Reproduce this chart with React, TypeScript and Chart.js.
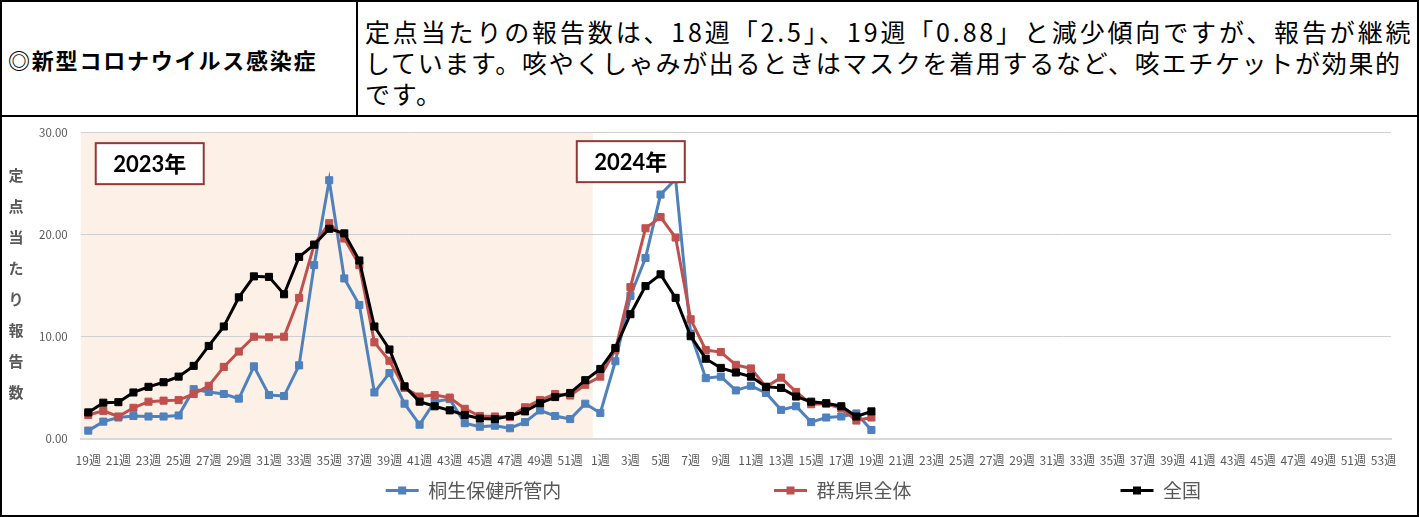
import React, { useEffect, useRef } from 'react';
import { Chart, registerables } from 'chart.js';

Chart.register(...registerables);

// ---- categories (x axis) ----
const weeks2023 = [
  '19週', '20週', '21週', '22週', '23週', '24週', '25週', '26週', '27週', '28週',
  '29週', '30週', '31週', '32週', '33週', '34週', '35週', '36週', '37週', '38週',
  '39週', '40週', '41週', '42週', '43週', '44週', '45週', '46週', '47週', '48週',
  '49週', '50週', '51週', '52週',
];
const weeks2024 = [
  '1週', '2週', '3週', '4週', '5週', '6週', '7週', '8週', '9週', '10週',
  '11週', '12週', '13週', '14週', '15週', '16週', '17週', '18週', '19週', '20週',
  '21週', '22週', '23週', '24週', '25週', '26週', '27週', '28週', '29週', '30週',
  '31週', '32週', '33週', '34週', '35週', '36週', '37週', '38週', '39週', '40週',
  '41週', '42週', '43週', '44週', '45週', '46週', '47週', '48週', '49週', '50週',
  '51週', '52週', '53週',
];
const categories = [...weeks2023, ...weeks2024];

// ---- series values ----
const kiryu2023 = [
  0.82, 1.7, 2.1, 2.25, 2.2, 2.2, 2.3, 4.87, 4.6, 4.4,
  3.95, 7.1, 4.3, 4.2, 7.2, 17.0, 25.3, 15.7, 13.1, 4.55,
  6.45, 3.45, 1.4, 3.65, 3.9, 1.55, 1.2, 1.3, 1.05, 1.65,
  2.8, 2.25, 1.95, 3.45,
];
const kiryu2024 = [
  2.55, 7.6, 14.0, 17.7, 23.9, 25.4, 10.3, 5.95, 6.1, 4.75,
  5.2, 4.5, 2.85, 3.2, 1.65, 2.1, 2.2, 2.5, 0.88,
];
const gunma2023 = [
  2.35, 2.75, 2.2, 3.05, 3.65, 3.75, 3.8, 4.4, 5.2, 7.05,
  8.55, 10.0, 9.95, 10.0, 13.8, 19.0, 21.1, 19.6, 17.0, 9.45,
  7.65, 5.0, 4.15, 4.3, 4.05, 2.95, 2.25, 2.2, 2.15, 3.1,
  3.8, 4.4, 4.25, 5.3,
];
const gunma2024 = [
  6.1, 8.7, 14.85, 20.6, 21.7, 19.7, 11.7, 8.7, 8.5, 7.25,
  6.9, 5.1, 6.0, 4.6, 3.4, 3.45, 3.0, 1.8, 2.1,
];
const national2023 = [
  2.6, 3.55, 3.6, 4.55, 5.1, 5.55, 6.1, 7.15, 9.1, 11.0,
  13.85, 15.9, 15.85, 14.15, 17.8, 19.0, 20.55, 20.1, 17.45, 11.0,
  8.75, 5.15, 3.65, 3.2, 2.8, 2.35, 2.0, 1.95, 2.25, 2.7,
  3.5, 4.1, 4.5, 5.75,
];
const national2024 = [
  6.85, 8.9, 12.2, 14.95, 16.1, 13.8, 10.05, 7.85, 6.95, 6.5,
  6.1, 5.1, 5.0, 4.15, 3.65, 3.5, 3.2, 2.2, 2.7,
];

const seriesNames = ['桐生保健所管内', '群馬県全体', '全国'];
const seriesColors = ['#4F81BD', '#C0504D', '#000000'];
const yearLabels = ['2023年', '2024年'];
const yTicks = [0, 10, 20, 30];
const yTitleChars = ['定', '点', '当', 'た', 'り', '報', '告', '数'];

const headerLeft = '◎新型コロナウイルス感染症';
const headerLines = [
  '定点当たりの報告数は、18週「2.5」、19週「0.88」と減少傾向ですが、報告が継続',
  'しています。咳やくしゃみが出るときはマスクを着用するなど、咳エチケットが効果的',
  'です。',
];
const headerSpacing = [2.85, 1.7, 1.7];

const fullSeries = (a: number[], b: number[]) =>
  [...a, ...b, ...new Array(weeks2024.length - b.length).fill(null)];

// legend spacing (Excel spreads the legend entries out)
const legendSpacers = [
  '\u3000'.repeat(11) + '\u2009',
  '\u3000'.repeat(11),
  '\u3000'.repeat(10),
];

const FONT = "'Noto Sans CJK JP', 'Noto Sans', sans-serif";

const bandInfo = (chart: any) => {
  const x = chart.scales.x;
  const half = (x.getPixelForValue(1) - x.getPixelForValue(0)) / 2;
  const left = x.getPixelForValue(0) - half;
  const right = x.getPixelForValue(weeks2023.length - 1) + half;
  return { left, right };
};

const shadePlugin = {
  id: 'shade2023',
  beforeDraw(chart: any) {
    const { ctx, chartArea } = chart;
    const { left, right } = bandInfo(chart);
    ctx.save();
    ctx.fillStyle = '#FDF0E6';
    ctx.fillRect(left, chartArea.top, right - left, chartArea.bottom - chartArea.top);
    ctx.restore();
  },
};

const yearBoxPlugin = {
  id: 'yearBoxes',
  afterDatasetsDraw(chart: any) {
    const { ctx, chartArea } = chart;
    const { right } = bandInfo(chart);
    const boxes = [
      { text: yearLabels[0], left: chartArea.left + 15, top: chartArea.top + 11 },
      { text: yearLabels[1], left: right - 16, top: chartArea.top + 9 },
    ];
    ctx.save();
    boxes.forEach((b) => {
      const w = 108;
      const h = 41;
      ctx.fillStyle = '#FFFFFF';
      ctx.fillRect(b.left, b.top, w, h);
      ctx.strokeStyle = '#953735';
      ctx.lineWidth = 2;
      ctx.strokeRect(b.left, b.top, w, h);
      ctx.fillStyle = '#000000';
      ctx.font = `bold 22px Lato, ${FONT}`;
      ctx.textAlign = 'center';
      ctx.textBaseline = 'middle';
      ctx.fillText(b.text, b.left + w / 2, b.top + h / 2 + 1);
    });
    ctx.restore();
  },
};

const legendMarkerPlugin = {
  id: 'legendMarkers',
  afterDraw(chart: any) {
    const legend = chart.legend;
    if (!legend || !legend.legendHitBoxes) return;
    const { ctx } = chart;
    const boxW = legend.options.labels.boxWidth;
    ctx.save();
    legend.legendHitBoxes.forEach((hb: any, i: number) => {
      const item = legend.legendItems[i];
      const color = seriesColors[item.datasetIndex];
      const cx = hb.left + boxW / 2;
      const cy = hb.top + hb.height / 2;
      ctx.fillStyle = color;
      ctx.fillRect(cx - 4, cy - 4, 8, 8);
    });
    ctx.restore();
  },
};

export default function App() {
  const canvasRef = useRef<HTMLCanvasElement>(null);

  useEffect(() => {
    const seriesData = [
      fullSeries(kiryu2023, kiryu2024),
      fullSeries(gunma2023, gunma2024),
      fullSeries(national2023, national2024),
    ];
    const orders = [2, 1, 0];
    const chart = new Chart(canvasRef.current as HTMLCanvasElement, {
      type: 'line',
      data: {
        labels: categories,
        datasets: seriesNames.map((name, i) => ({
          label: name,
          data: seriesData[i],
          borderColor: seriesColors[i],
          backgroundColor: seriesColors[i],
          borderWidth: 3,
          pointStyle: 'rect',
          pointRadius: 5,
          pointHoverRadius: 5,
          pointBackgroundColor: seriesColors[i],
          pointBorderColor: seriesColors[i],
          pointBorderWidth: 1,
          tension: 0,
          spanGaps: false,
          order: orders[i],
        })),
      },
      options: {
        animation: false,
        responsive: true,
        maintainAspectRatio: false,
        layout: { padding: { left: 24, right: 26, top: 9, bottom: 5 } },
        plugins: {
          tooltip: { enabled: false },
          legend: {
            position: 'bottom',
            align: 'end',
            labels: {
              boxWidth: 33,
              boxHeight: 3,
              padding: 0,
              color: '#595959',
              font: { family: FONT, size: 19 },
              sort: (a: any, b: any) => a.datasetIndex - b.datasetIndex,
              generateLabels: (c: any) => {
                const items = (Chart as any).defaults.plugins.legend.labels.generateLabels(c);
                return items.map((it: any) => ({
                  ...it,
                  lineWidth: 0,
                  fillStyle: seriesColors[it.datasetIndex],
                  text: seriesNames[it.datasetIndex] + legendSpacers[it.datasetIndex],
                }));
              },
            },
          },
        },
        scales: {
          x: {
            offset: true,
            grid: { display: false, drawTicks: false },
            border: { display: true, color: '#D9D9D9', width: 2 },
            ticks: {
              autoSkip: false,
              maxRotation: 0,
              minRotation: 0,
              padding: 15,
              color: '#595959',
              font: { family: FONT, size: 12, lineHeight: 1.0 },
              callback: (_v: any, idx: number) => (idx % 2 === 0 ? categories[idx] : ''),
            },
          },
          y: {
            min: yTicks[0],
            max: yTicks[yTicks.length - 1],
            border: { display: false },
            grid: { color: '#D0D0D0', lineWidth: 1, drawTicks: false, borderDash: [2, 2] } as any,
            afterBuildTicks: (axis: any) => {
              axis.ticks = yTicks.map((v) => ({ value: v }));
            },
            ticks: {
              padding: 13,
              color: '#595959',
              font: { family: FONT, size: 11.5, lineHeight: 0.2 },
              callback: (v: any) => Number(v).toFixed(2),
            },
          },
        },
      },
      plugins: [shadePlugin, yearBoxPlugin, legendMarkerPlugin],
    } as any);
    return () => chart.destroy();
  }, []);

  return (
    <div
      style={{
        position: 'fixed',
        left: 0,
        top: 0,
        width: 1419,
        height: 517,
        background: '#FFFFFF',
        fontFamily: FONT,
        color: '#000',
        overflow: 'hidden',
      }}
    >
      <div
        style={{
          position: 'absolute',
          left: 0,
          top: 0,
          width: 1419,
          height: 517,
          border: '2px solid #000',
          boxSizing: 'border-box',
        }}
      />
      <div style={{ position: 'absolute', left: 0, top: 115, width: 1419, height: 2, background: '#000' }} />
      <div style={{ position: 'absolute', left: 356, top: 0, width: 2, height: 117, background: '#000' }} />
      <div
        style={{
          position: 'absolute',
          left: 8,
          top: 2,
          height: 113,
          display: 'flex',
          alignItems: 'center',
          fontSize: 22,
          fontWeight: 700,
          letterSpacing: 1.8,
          whiteSpace: 'nowrap',
        }}
      >
        {headerLeft}
      </div>
      <div
        style={{
          position: 'absolute',
          left: 365,
          top: 16,
          fontSize: 25,
          lineHeight: '31px',
          whiteSpace: 'nowrap',
        }}
      >
        {headerLines.map((l, i) => (
          <div key={i} style={{ letterSpacing: headerSpacing[i] }}>
            {l}
          </div>
        ))}
      </div>
      <div style={{ position: 'absolute', left: 2, top: 118, width: 1415, height: 397 }}>
        <canvas ref={canvasRef} />
        <div
          style={{
            position: 'absolute',
            left: 4,
            top: 41,
            width: 20,
            textAlign: 'center',
            fontSize: 15,
            fontWeight: 700,
            lineHeight: '31px',
            color: '#595959',
          }}
        >
          {yTitleChars.map((c, i) => (
            <div key={i}>{c}</div>
          ))}
        </div>
      </div>
    </div>
  );
}
